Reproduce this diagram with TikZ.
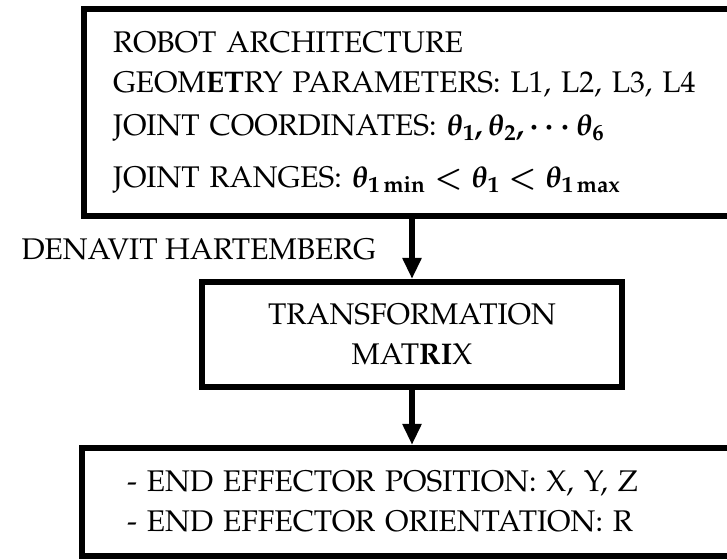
\documentclass[tikz,border=0pt]{standalone}
\usepackage[T1]{fontenc}
\usepackage{mathpazo}
\usepackage{amsmath, amssymb}
\usetikzlibrary{arrows.meta, positioning}

\begin{document}
\begin{tikzpicture}[x=0.02cm, y=-0.02cm]
			\tikzset {>={Triangle[width=0.36cm, length=0.42cm]}, node distance=1.2cm, every node/.style={font=\fontsize{17}{22.8}\selectfont}, block/.style={draw, rectangle, line width=0.12cm, inner ysep=0pt}, flow/.style={->, line width=0.12cm} }

			\useasboundingbox (0,0) rectangle (727,559);

			\node[block, minimum width=13.12cm, minimum height=4.14cm, text width=11.96cm, inner xsep=0.58cm, align=left] (A) at (412,112.5) {ROBOT ARCHITECTURE\\ GEOM\textbf{ET}RY PARAMETERS: L1, L2, L3, L4\\[0.06cm] JOINT COORDINATES: $\boldsymbol{\theta_1,\theta_2,\cdots\theta_6}$\\[0.24cm] JOINT RANGES: $\boldsymbol{\theta_{1\min}<\theta_1<\theta_{1\max}}$};
			\node[block, minimum width=8.4cm, minimum height=2.1cm, align=center] (B) [below=of A] {TRANSFORMATION\\ MAT\textbf{RI}X};
			\node[block, minimum width=13.2cm, minimum height=2.16cm, text width=11.4cm, inner xsep=0.9cm, align=left] (C) [below=1.1cm of B] {- END EFFECTOR POSITION: X, Y, Z\\ - END EFFECTOR ORIENTATION: R};

			\path
				(A.south -| B) edge[flow] node[left=0.66cm, inner sep=0pt] {DENAVIT HARTEMBERG} (B)
				(B) edge[flow] (C.north -| B);

		\end{tikzpicture}
\end{document}
